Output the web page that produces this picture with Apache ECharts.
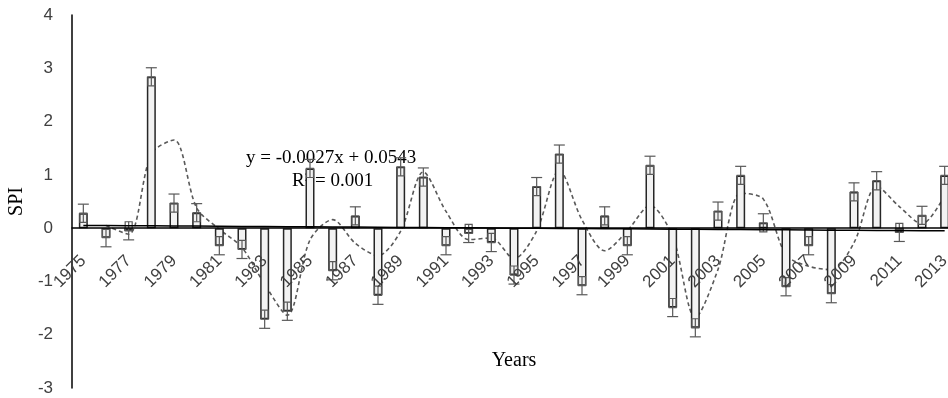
<!DOCTYPE html>
<html>
<head>
<meta charset="utf-8">
<script src="https://cdn.jsdelivr.net/npm/echarts@6/dist/echarts.min.js"></script>
<style>
html,body{margin:0;padding:0;background:#fff;}
#chart{width:948px;height:398px;}
</style>
</head>
<body>
<div id="chart"></div>
<script>
var years = ['1975','1976','1977','1978','1979','1980','1981','1982','1983','1984','1985','1986','1987','1988','1989','1990','1991','1992','1993','1994','1995','1996','1997','1998','1999','2000','2001','2002','2003','2004','2005','2006','2007','2008','2009','2010','2011','2012','2013'];
var spi = [0.28,-0.18,-0.05,2.84,0.47,0.29,-0.33,-0.40,-1.71,-1.56,1.12,-0.80,0.23,-1.26,1.15,0.96,-0.33,-0.10,-0.27,-0.88,0.78,1.39,-1.08,0.23,-0.33,1.18,-1.49,-1.87,0.32,0.99,0.10,-1.10,-0.33,-1.23,0.68,0.89,-0.08,0.24,0.99];
var errorSize = 0.17;
var trendSlope = -0.0027;
var trendIntercept = 0.0543;
var equationText = 'y = -0.0027x + 0.0543';
var r2Text = 'R\u00b2 = 0.001';
var yTicks = {min: -3, max: 4, interval: 1};

// 2-period moving average (as drawn in the reference)
var movingAvg = spi.map(function (v, i) { return i === 0 ? null : +((v + spi[i - 1]) / 2).toFixed(3); });
// linear trend line from the shown equation (x = 1..n)
var trend = spi.map(function (v, i) { return +(trendSlope * (i + 1) + trendIntercept).toFixed(4); });
var errData = spi.map(function (v, i) { return [i, v]; });

var chart = echarts.init(document.getElementById('chart'));
var sansFont = '"Liberation Sans", Arial, sans-serif';
var serifFont = '"Liberation Serif", "Times New Roman", serif';

var gridTop = 15, gridBottom = 10;
var plotH = 398 - gridTop - gridBottom;
var zeroOffset = -plotH * (0 - yTicks.min) / (yTicks.max - yTicks.min);

chart.setOption({
  animation: false,
  grid: {left: 72, right: -8, top: gridTop, bottom: gridBottom, containLabel: false, outerBoundsMode: 'none'},
  xAxis: {
    type: 'category',
    data: years,
    boundaryGap: true,
    position: 'bottom',
    offset: zeroOffset,
    z: 5,
    axisLine: {onZero: false, lineStyle: {color: '#000', width: 1.5}},
    axisTick: {show: false},
    axisLabel: {rotate: 45, interval: 1, fontFamily: sansFont, fontSize: 17, color: '#404040', margin: 30},
    name: 'Years',
    nameLocation: 'middle',
    nameGap: 123,
    nameTextStyle: {fontFamily: serifFont, fontSize: 20, color: '#000'}
  },
  yAxis: {
    type: 'value',
    min: yTicks.min, max: yTicks.max, interval: yTicks.interval,
    axisLine: {show: true, lineStyle: {color: '#000', width: 1.5}},
    axisTick: {show: false},
    splitLine: {show: false},
    axisLabel: {fontFamily: sansFont, fontSize: 17, color: '#404040', margin: 19},
    name: 'SPI',
    nameLocation: 'middle',
    nameRotate: 90,
    nameGap: 44,
    nameTextStyle: {fontFamily: serifFont, fontSize: 20, color: '#000'}
  },
  graphic: [
    {type: 'text', left: 246, top: 149, z: 1, style: {text: equationText, font: '19px ' + serifFont, fill: '#000'}},
    {type: 'text', left: 292, top: 172, z: 1, style: {text: r2Text, font: '19px ' + serifFont, fill: '#000'}}
  ],
  series: [
    {
      type: 'line',
      data: movingAvg,
      smooth: 0.3,
      symbol: 'none',
      connectNulls: false,
      z: 1,
      lineStyle: {color: '#595959', width: 1.6, type: [4, 3]}
    },
    {
      type: 'bar',
      data: spi,
      barWidth: 9,
      z: 2,
      itemStyle: {color: '#f2f2f2', borderColor: '#262626', borderWidth: 1.5}
    },
    {
      type: 'custom',
      data: errData,
      z: 3,
      encode: {x: 0, y: 1},
      renderItem: function (params, api) {
        var i = api.value(0), v = api.value(1);
        var s = v >= 0 ? 1 : -1;
        var pV = api.coord([i, v]);
        var pOut = api.coord([i, v + s * errorSize]);
        var pIn = api.coord([i, v - s * errorSize]);
        var x = pV[0];
        var st = {stroke: '#595959', lineWidth: 1.2, fill: null};
        return {
          type: 'group',
          children: [
            {type: 'line', shape: {x1: x, y1: pOut[1], x2: x, y2: pIn[1]}, style: st},
            {type: 'line', shape: {x1: x - 5.5, y1: pOut[1], x2: x + 5.5, y2: pOut[1]}, style: st},
            {type: 'rect', shape: {x: x - 3.5, y: Math.min(pV[1], pIn[1]), width: 7, height: Math.abs(pIn[1] - pV[1])}, style: st}
          ]
        };
      }
    },
    {
      type: 'line',
      data: trend,
      symbol: 'none',
      z: 4,
      lineStyle: {color: '#000', width: 1.5}
    }
  ]
});
</script>
</body>
</html>
